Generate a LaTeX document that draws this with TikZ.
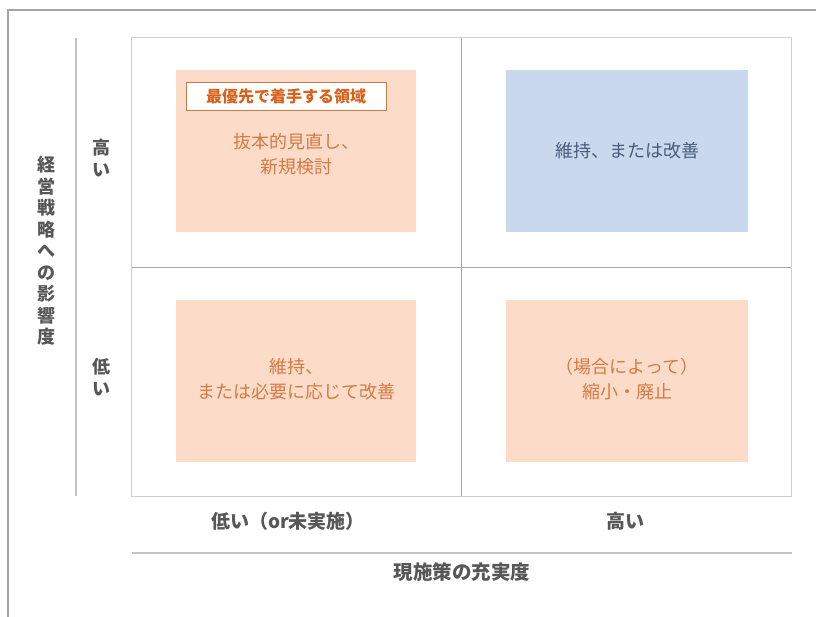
\documentclass[tikz,border=0pt]{standalone}
\usepackage{fontspec}
\setmainfont{Noto Sans CJK JP}
\definecolor{frameGray}{HTML}{A4A4A4}
\definecolor{gridGray}{HTML}{CFCFCF}
\definecolor{midGray}{HTML}{A8A8A8}
\definecolor{axisGray}{HTML}{C4C4C4}
\definecolor{orFill}{HTML}{FCDCC9}
\definecolor{orText}{HTML}{D47A44}
\definecolor{orDark}{HTML}{D8621C}
\definecolor{orBorder}{HTML}{C47A4A}
\definecolor{blFill}{HTML}{C9D8ED}
\definecolor{blText}{HTML}{4A5C7C}
\definecolor{lblGray}{HTML}{575757}
\begin{document}
\begin{tikzpicture}[x=1pt,y=-1pt,
  cell/.style={inner sep=0pt, minimum width=329pt, minimum height=229pt},
  qbox/.style={inner sep=0pt, minimum width=240pt, minimum height=162pt},
  boxtext/.style={align=center, font=\fontsize{18}{25.5}\selectfont},
  axlabel/.style={text=lblGray, font=\bfseries\fontsize{19}{22}\selectfont},
  vlabel/.style={text=lblGray, align=center, font=\bfseries\fontsize{18}{21.5}\selectfont}
]
\clip (0,0) rectangle (816,616);
\fill[white] (0,0) rectangle (816,616);
% outer frame (open to right and bottom)
\coordinate (fa) at (8,630);
\coordinate (fb) at (8,10);
\coordinate (fc) at (830,10);
\draw[frameGray, line width=2pt] (fa) -- (fb) -- (fc);

% cells
\node[cell] (q11) at (296.5,152.5) {};
\node[cell] (q12) at (626.5,152.5) {};
\node[cell] (q21) at (296.5,381.5) {};
\node[cell] (q22) at (626.5,381.5) {};
\draw[gridGray, line width=1.3pt] (q11.north west) rectangle (q22.south east);
\draw[midGray, line width=1.2pt] (q11.north east) -- (q21.south east);
\draw[midGray, line width=1.2pt] (q11.south west) -- (q12.south east);

% quadrant boxes
\node[qbox, fill=orFill] (tl) at (296,151) {};
\node[qbox, fill=blFill, minimum width=242pt] (tr) at (627,151) {};
\node[qbox, fill=orFill] (bl) at (296,381) {};
\node[qbox, fill=orFill, minimum width=242pt] (br) at (627,381) {};

\node[draw=orBorder, fill=white, line width=0.8pt, inner sep=0pt,
      minimum width=200pt, minimum height=28pt, text=orDark,
      font=\bfseries\fontsize{16}{18}\selectfont] (prio) at (286,96) {最優先で着手する領域};

\node[boxtext, text=orText] (tlt) at (296,154) {抜本的見直し、\\新規検討};
\node[boxtext, text=blText] (trt) at (627,151) {維持、または改善};
\node[boxtext, text=orText] (blt) at (296,379) {維持、\\または必要に応じて改善};
\node[boxtext, text=orText] (brt) at (627,379) {（場合によって）\\縮小・廃止};

% axes
\coordinate (va) at (76,38);
\coordinate (vb) at (76,496);
\draw[axisGray, line width=1.3pt] (va) -- (vb);
\coordinate (ha) at (132,553);
\coordinate (hb) at (792,553);
\draw[axisGray, line width=1.3pt] (ha) -- (hb);

% axis labels
\node[vlabel] (yhigh) at (101,158) {高\\い};
\node[vlabel] (ylow) at (101,377) {低\\い};
\node[vlabel] (ytitle) at (46,251) {経\\営\\戦\\略\\へ\\の\\影\\響\\度};
\node[axlabel] (xlow) at (288,521) {低い（or未実施）};
\node[axlabel] (xhigh) at (625,521) {高い};
\node[axlabel, font=\bfseries\fontsize{19.5}{22}\selectfont] (xtitle) at (462,572) {現施策の充実度};
\end{tikzpicture}
\end{document}
